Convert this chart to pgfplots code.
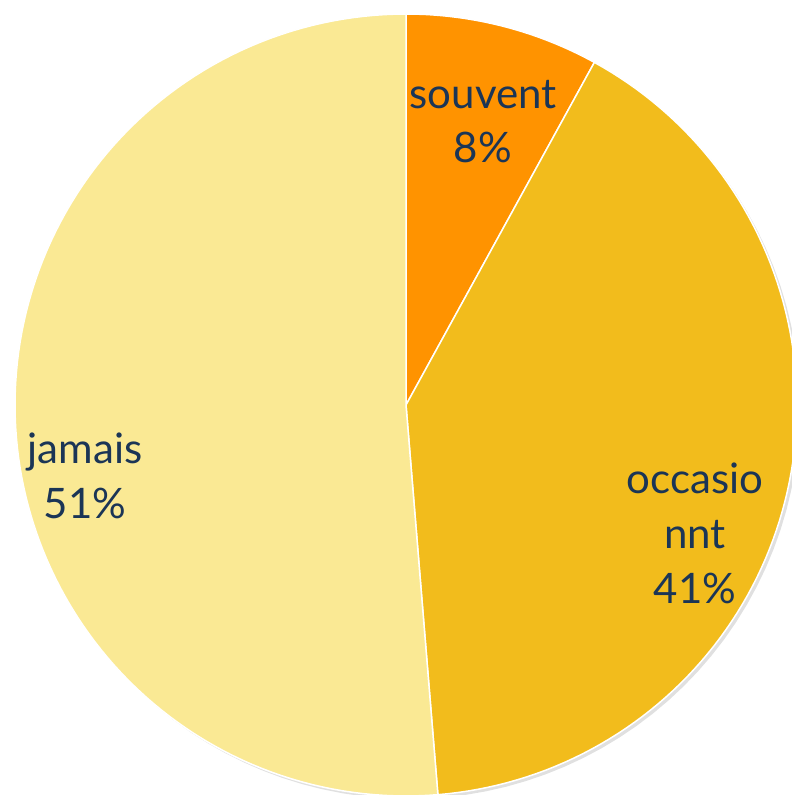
\documentclass[border=0pt]{standalone}
\usepackage{pgfplots}
\usepackage{pgfplotstable}
\pgfplotsset{compat=1.18}
\usepackage{fontspec}
\setmainfont{Lato}
\definecolor{cSouvent}{HTML}{FF9300}
\definecolor{cOcc}{HTML}{F2BC1C}
\definecolor{cJamais}{HTML}{FAE994}
\definecolor{cText}{HTML}{1B3556}
\pgfplotstableread{
label value
souvent 8.0
occasionnt 40.7
jamais 51.3
}\datatable
\begin{document}
\begin{tikzpicture}
\pgfplotstablegetelem{0}{value}\of\datatable \let\vA\pgfplotsretval
\pgfplotstablegetelem{1}{value}\of\datatable \let\vB\pgfplotsretval
\pgfplotstablegetelem{2}{value}\of\datatable \let\vC\pgfplotsretval
\pgfmathsetmacro{\aZ}{90}
\pgfmathsetmacro{\aA}{90-3.6*\vA}
\pgfmathsetmacro{\aB}{\aA-3.6*\vB}
\pgfmathsetmacro{\aC}{\aB-3.6*\vC}
\begin{axis}[
  scale only axis, width=792pt, height=795pt,
  xmin=0, xmax=792, ymin=0, ymax=795,
  hide axis, clip=true,
]
% soft shadow
\addplot[draw=none, fill=black, opacity=0.12, domain=0:360, samples=120, variable=\t]
  ({409+391*cos(t)},{387+391*sin(t)}) -- cycle;
\addplot[fill=cSouvent, draw=white, line width=1.5pt, domain=\aA:\aZ, samples=40, variable=\t]
  ({406+391*cos(t)},{390+391*sin(t)}) -- (axis cs:406,390) -- cycle;
\addplot[fill=cOcc, draw=white, line width=1.5pt, domain=\aB:\aA, samples=100, variable=\t]
  ({406+391*cos(t)},{390+391*sin(t)}) -- (axis cs:406,390) -- cycle;
\addplot[fill=cJamais, draw=white, line width=1.5pt, domain=\aC:\aB, samples=120, variable=\t]
  ({406+391*cos(t)},{390+391*sin(t)}) -- (axis cs:406,390) -- cycle;
\node[text=cText, align=center, font=\fontsize{42}{54}\selectfont] at (axis cs:483,673) {souvent\\8\%};
\node[text=cText, align=center, font=\fontsize{42}{55}\selectfont] at (axis cs:695,262) {occasio\\nnt\\41\%};
\node[text=cText, align=center, font=\fontsize{42}{55}\selectfont] at (axis cs:85,319) {jamais\\51\%};
\end{axis}
\pgfresetboundingbox
\useasboundingbox (current axis.south west) rectangle (current axis.north east);
\end{tikzpicture}
\end{document}
